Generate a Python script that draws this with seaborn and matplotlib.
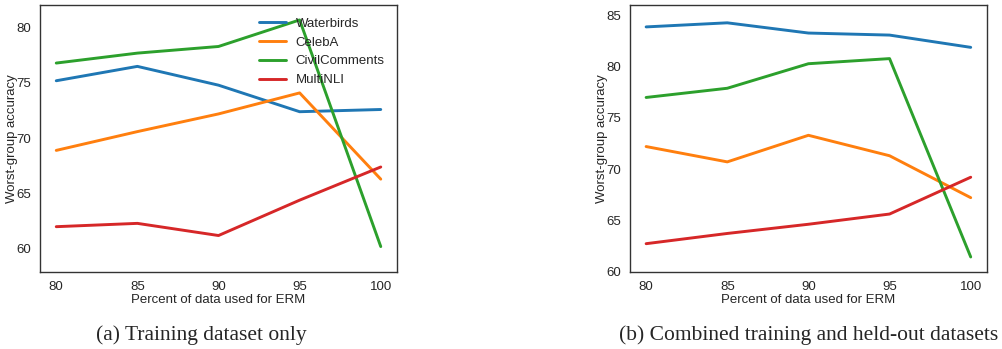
import numpy as np
import pandas as pd
import matplotlib
matplotlib.use("Agg")
import matplotlib.pyplot as plt
import seaborn as sns

percents = [80, 85, 90, 95, 100]
datasets = ["Waterbirds", "CelebA", "CivilComments", "MultiNLI"]

# (a) training dataset only
train_waterbirds = [75.2, 76.5, 74.8, 72.4, 72.6]
train_celeba = [68.9, 70.6, 72.2, 74.1, 66.3]
train_civil = [76.8, 77.7, 78.3, 80.7, 60.2]
train_mnli = [62.0, 62.3, 61.2, 64.4, 67.4]

# (b) combined training and held-out datasets
comb_waterbirds = [83.9, 84.3, 83.3, 83.1, 81.9]
comb_celeba = [72.2, 70.7, 73.3, 71.3, 67.2]
comb_civil = [77.0, 77.9, 80.3, 80.8, 61.4]
comb_mnli = [62.7, 63.7, 64.6, 65.6, 69.2]


def to_long(series):
    rows = []
    for name, vals in zip(datasets, series):
        for p, v in zip(percents, vals):
            rows.append({"percent": p, "acc": v, "dataset": name})
    return pd.DataFrame(rows)


df_a = to_long([train_waterbirds, train_celeba, train_civil, train_mnli])
df_b = to_long([comb_waterbirds, comb_celeba, comb_civil, comb_mnli])

sns.set_style("white")
plt.rcParams["font.family"] = ["Liberation Sans", "DejaVu Sans"]

fig = plt.figure(figsize=(10.03, 3.49), dpi=100)
ax1 = fig.add_axes([0.0399, 0.2206, 0.3559, 0.765])
ax2 = fig.add_axes([0.628, 0.2206, 0.356, 0.765])

pal = sns.color_palette("tab10", 4)

sns.lineplot(data=df_a, x="percent", y="acc", hue="dataset", palette=pal,
             linewidth=2.1, ax=ax1)
sns.lineplot(data=df_b, x="percent", y="acc", hue="dataset", palette=pal,
             linewidth=2.1, ax=ax2, legend=False)

ax1.set_ylim(57.9, 82.05)
ax2.set_ylim(59.93, 86.04)
for ax in (ax1, ax2):
    ax.set_xlim(79, 101)
    ax.set_xticks(percents)
    ax.set_xlabel("Percent of data used for ERM", fontsize=9.5, labelpad=1)
    ax.set_ylabel("Worst-group accuracy", fontsize=9.5)
    ax.yaxis.set_label_coords(-0.062, 0.5)
    ax.tick_params(labelsize=9.5, pad=3)
    for s in ax.spines.values():
        s.set_color("#333333")
        s.set_linewidth(1.0)

ax1.set_yticks([60, 65, 70, 75, 80])
ax2.set_yticks([60, 65, 70, 75, 80, 85])

ax1.legend(loc="upper right", frameon=False, fontsize=9.5, handlelength=2.1,
           handletextpad=0.7, borderaxespad=0.55, labelspacing=0.5)

fig.text(0.201, 0.04, "(a) Training dataset only", ha="center", va="center",
         fontsize=15.5, family=["Liberation Serif", "DejaVu Serif"])
fig.text(0.806, 0.04, "(b) Combined training and held-out datasets", ha="center",
         va="center", fontsize=15.5, family=["Liberation Serif", "DejaVu Serif"])

fig.savefig("out.png", dpi=100)
